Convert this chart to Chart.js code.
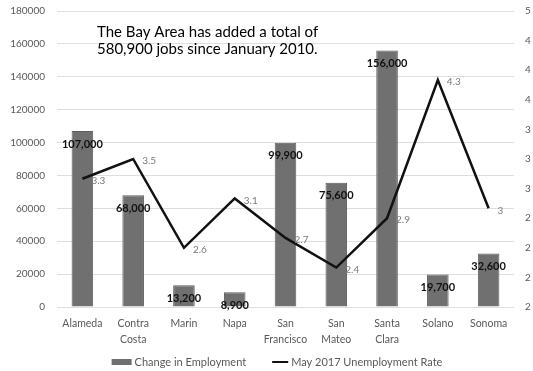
<!DOCTYPE html>
<html>
<head>
<meta charset="utf-8">
<script src="https://cdn.jsdelivr.net/npm/chart.js@4/dist/chart.umd.min.js"></script>
<style>
  html, body { margin: 0; padding: 0; background: #fff; }
  #wrap { width: 533px; height: 371px; }
</style>
</head>
<body>
<div id="wrap"><canvas id="myChart"></canvas></div>
<script>
const counties = ['Alameda', ['Contra', 'Costa'], 'Marin', 'Napa', ['San', 'Francisco'], ['San', 'Mateo'], ['Santa', 'Clara'], 'Solano', 'Sonoma'];
const jobsAdded = [107000, 68000, 13200, 8900, 99900, 75600, 156000, 19700, 32600];
const unemploymentRate = [3.3, 3.5, 2.6, 3.1, 2.7, 2.4, 2.9, 4.3, 3];
// secondary axis: 2 to 5 in steps of 0.3, shown with no decimals
const rateTicks = [2, 2.3, 2.6, 2.9, 3.2, 3.5, 3.8, 4.1, 4.4, 4.7, 5];
const rateTickLabels = ['2', '2', '2', '2', '3', '3', '3', '4', '4', '4', '5'];
const titleLines = ['The Bay Area has added a total of', '580,900 jobs since January 2010.'];

const FONT = 'Lato, "Liberation Sans", sans-serif';

// value labels for bars (bold, inside top) and the line (grey, right of point)
const valueLabels = {
  id: 'valueLabels',
  afterDatasetsDraw(chart) {
    const ctx = chart.ctx;
    ctx.save();
    ctx.textBaseline = 'middle';

    const bars = chart.getDatasetMeta(0).data;
    ctx.font = 'bold 11px ' + FONT;
    ctx.fillStyle = '#111';
    ctx.textAlign = 'center';
    bars.forEach(function(bar, i) {
      ctx.fillText(jobsAdded[i].toLocaleString('en-US'), bar.x, bar.y + 13);
    });

    const points = chart.getDatasetMeta(1).data;
    ctx.font = '10px ' + FONT;
    ctx.fillStyle = '#7a7a7a';
    ctx.textAlign = 'left';
    points.forEach(function(pt, i) {
      ctx.fillText(String(unemploymentRate[i]), pt.x + 9, pt.y + 2);
    });

    // text box inside the plot
    ctx.font = '15px ' + FONT;
    ctx.fillStyle = '#000';
    ctx.textBaseline = 'alphabetic';
    ctx.fillText(titleLines[0], 97, 37);
    ctx.fillText(titleLines[1], 97, 54);
    ctx.restore();
  }
};

// legend row under the axis: bar swatch + line sample
const bottomLegend = {
  id: 'bottomLegend',
  afterDraw(chart) {
    const ctx = chart.ctx;
    const sets = chart.data.datasets;
    const y = 362;
    ctx.save();
    ctx.font = '11px ' + FONT;
    ctx.textBaseline = 'middle';
    ctx.textAlign = 'left';
    const w0 = ctx.measureText(sets[0].label).width;
    const w1 = ctx.measureText(sets[1].label).width;
    const total = 20 + 3 + w0 + 26 + 16 + 3 + w1;
    let x = 277 - total / 2;

    ctx.fillStyle = sets[0].backgroundColor;
    ctx.fillRect(x, y - 3, 20, 6);
    x += 23;
    ctx.fillStyle = '#595959';
    ctx.fillText(sets[0].label, x, y);
    x += w0 + 26;

    ctx.strokeStyle = sets[1].borderColor;
    ctx.lineWidth = 2;
    ctx.beginPath();
    ctx.moveTo(x, y);
    ctx.lineTo(x + 16, y);
    ctx.stroke();
    x += 19;
    ctx.fillText(sets[1].label, x, y);
    ctx.restore();
  }
};

function noOverhang(scale) {
  scale.paddingTop = 0;
  scale.paddingBottom = 0;
}

const ctx = document.getElementById('myChart');
new Chart(ctx, {
  data: {
    labels: counties,
    datasets: [
      {
        type: 'bar',
        label: 'Change in Employment',
        data: jobsAdded,
        backgroundColor: '#707070',
        borderColor: '#5e5e5e',
        borderWidth: 1,
        barPercentage: 0.85,
        categoryPercentage: 0.5,
        yAxisID: 'y',
        order: 2
      },
      {
        type: 'line',
        label: 'May 2017 Unemployment Rate',
        data: unemploymentRate,
        borderColor: '#111',
        backgroundColor: '#111',
        borderWidth: 2.5,
        pointRadius: 0,
        tension: 0,
        yAxisID: 'y1',
        order: 1
      }
    ]
  },
  options: {
    responsive: true,
    maintainAspectRatio: false,
    animation: false,
    layout: { padding: { top: 11, left: 0, right: 0, bottom: 24 } },
    plugins: {
      tooltip: { enabled: false },
      legend: { display: false }
    },
    scales: {
      x: {
        grid: { display: false, drawTicks: false },
        border: { display: false },
        ticks: {
          font: { family: FONT, size: 10.5, lineHeight: 1.5 },
          color: '#595959',
          padding: 9,
          maxRotation: 0,
          autoSkip: false
        },
        afterFit: function(scale) {
          scale.height = 40;
          scale.paddingLeft = 0;
          scale.paddingRight = 0;
        }
      },
      y: {
        position: 'left',
        min: 0,
        max: 180000,
        grid: { color: '#dedede', drawTicks: false },
        border: { display: false },
        ticks: {
          stepSize: 20000,
          font: { family: FONT, size: 10 },
          color: '#595959',
          padding: 12,
          callback: function(v) { return String(v); }
        },
        afterFit: function(scale) {
          scale.width = 57;
          noOverhang(scale);
        }
      },
      y1: {
        position: 'right',
        min: 2,
        max: 5,
        grid: { display: false, drawTicks: false },
        border: { display: false },
        afterBuildTicks: function(scale) {
          scale.ticks = rateTicks.map(function(v) { return { value: v }; });
        },
        ticks: {
          autoSkip: false,
          maxTicksLimit: 20,
          font: { family: FONT, size: 10 },
          color: '#595959',
          padding: 11,
          callback: function(v, i) { return rateTickLabels[i]; }
        },
        afterFit: function(scale) {
          scale.width = 19;
          noOverhang(scale);
        }
      }
    }
  },
  plugins: [valueLabels, bottomLegend]
});
</script>
</body>
</html>
